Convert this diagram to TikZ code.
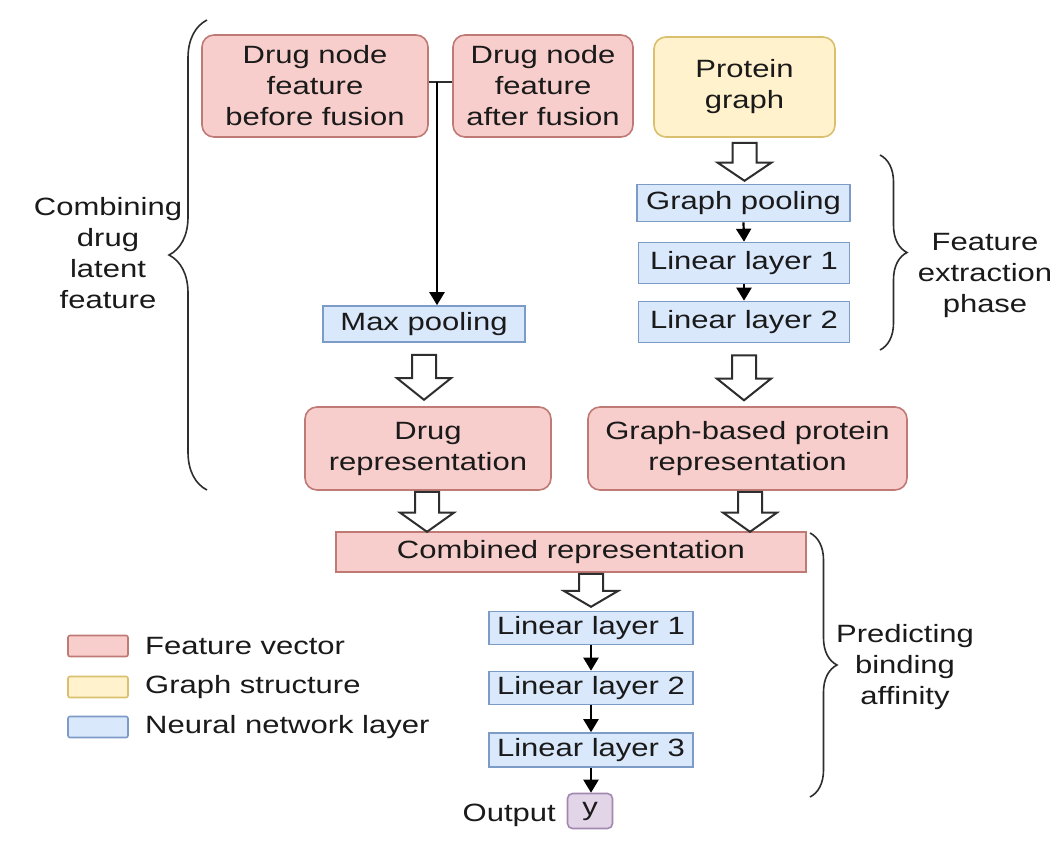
\documentclass[tikz,border=0pt]{standalone}
\usepackage{fontspec}
\setmainfont{Liberation Sans}[FakeStretch=1.24]
\usetikzlibrary{arrows.meta,calc,decorations.pathreplacing}
\definecolor{fvfill}{HTML}{F8CECC}
\definecolor{fvdraw}{HTML}{C07A76}
\definecolor{gsfill}{HTML}{FFF2CC}
\definecolor{gsdraw}{HTML}{D9BF6E}
\definecolor{nnfill}{HTML}{DAE8FC}
\definecolor{nndraw}{HTML}{7D9BC7}
\definecolor{oufill}{HTML}{E1D5E7}
\definecolor{oudraw}{HTML}{A488B2}
\definecolor{textc}{HTML}{1A1A1A}
\definecolor{arrc}{HTML}{2E2E2E}
\begin{document}
\begin{tikzpicture}[x=1pt,y=-1pt,
  every node/.style={font=\fontsize{25}{31}\selectfont, text=textc, inner sep=0pt},
  feat/.style={draw=fvdraw, fill=fvfill, line width=1.6pt, rounded corners=12pt, align=center},
  featsq/.style={draw=fvdraw, fill=fvfill, line width=1.6pt, align=center},
  graphs/.style={draw=gsdraw, fill=gsfill, line width=1.6pt, rounded corners=12pt, align=center},
  nnl/.style={draw=nndraw, fill=nnfill, line width=1.6pt, align=center},
  outb/.style={draw=oudraw, fill=oufill, line width=1.6pt, rounded corners=5pt},
  smallarr/.style={draw=black, line width=2.2pt, -{Triangle[length=13pt,width=15pt]}},
  thinline/.style={draw=arrc, line width=2pt},
  bracestyle/.style={draw=arrc, line width=1.6pt, decorate},
  openarr/.pic={\draw[line width=2pt,draw=arrc,fill=white,line join=miter]
      (-12,0) -- (-12,#1*0.52) -- (-27,#1*0.52) -- (0,#1) -- (27,#1*0.52) -- (12,#1*0.52) -- (12,0) -- cycle;}
]
\useasboundingbox[fill=white] (0,0) rectangle (1054,859);

% top row
\node[feat, minimum width=226pt, minimum height=102pt] (before) at (315,86) {Drug node\\feature\\before fusion};
\node[feat, minimum width=180pt, minimum height=102pt] (after) at (543,86) {Drug node\\feature\\after fusion};
\node[graphs, minimum width=181pt, minimum height=100pt] (protein) at (744.5,87) {Protein\\graph};

% protein branch
\node[nnl, minimum width=213pt, minimum height=37pt] (gpool) at (743.5,203) {Graph pooling};
\node[nnl, minimum width=211pt, minimum height=41pt] (pl1) at (744,263) {Linear layer 1};
\node[nnl, minimum width=211pt, minimum height=41pt] (pl2) at (744,322) {Linear layer 2};

% drug branch
\node[nnl, minimum width=202pt, minimum height=36pt] (maxpool) at (424,324) {Max pooling};

\node[feat, minimum width=246pt, minimum height=83pt] (drugrep) at (428,448.5) {Drug\\representation};
\node[feat, minimum width=319pt, minimum height=83pt] (protrep) at (747.5,448.5) {Graph-based protein\\representation};

\node[featsq, minimum width=470pt, minimum height=40pt] (comb) at (571,552) {Combined representation};

\node[nnl, minimum width=204pt, minimum height=33pt] (l1) at (591,628) {Linear layer 1};
\node[nnl, minimum width=204pt, minimum height=33pt] (l2) at (591,688) {Linear layer 2};
\node[nnl, minimum width=204pt, minimum height=34pt] (l3) at (591,750) {Linear layer 3};
\node[outb, minimum width=45pt, minimum height=35pt] (y) at (590,811) {y};
\node[anchor=east] (outlbl) at (556,815) {Output};

% junction between drug features
\coordinate (junc) at (437,82);
\draw[thinline] (before.east |- junc) -- (after.west |- junc);
\draw[smallarr] (junc) -- (junc |- maxpool.north);

% small arrows
\draw[smallarr] (gpool.south) -- (pl1.north);
\draw[smallarr] (pl1.south) -- (pl2.north);
\draw[smallarr] (l1.south) -- (l2.north);
\draw[smallarr] (l2.south) -- (l3.north);
\draw[smallarr] (l3.south) -- (y.north -| l3.south);

% open block arrows
\pic at ($(protein.south)+(0,5)$) {openarr=38};
\pic at ($(maxpool.south)+(0,12)$) {openarr=45};
\pic at ($(pl2.south)+(0,12)$) {openarr=45};
\pic at ($(drugrep.south)+(-1,1)$) {openarr=40};
\pic at ($(protrep.south)+(2.5,1)$) {openarr=40};
\pic at ($(comb.south -| l1.north)+(0,1)$) {openarr=33};

% braces
\coordinate (lbt) at (207,20);
\coordinate (lbb) at (207,490);
\draw[bracestyle, decoration={brace, amplitude=38pt}] (lbb) -- (lbt);
\node[align=center] (lbl1) at (108,253) {Combining\\drug\\latent\\feature};

\coordinate (fbt) at (880,155);
\coordinate (fbb) at (880,350);
\draw[bracestyle, decoration={brace, amplitude=27pt}] (fbt) -- (fbb);
\node[align=center] (lbl2) at (985,275) {Feature\\extraction\\phase};

\coordinate (pbt) at (810,533);
\coordinate (pbb) at (810,797);
\draw[bracestyle, decoration={brace, amplitude=27pt}] (pbt) -- (pbb);
\node[align=center] (lbl3) at (905,667) {Predicting\\binding\\affinity};

% legend
\node[draw=fvdraw, fill=fvfill, line width=1.6pt, rounded corners=2pt, minimum width=60pt, minimum height=21pt] (lg1) at (98,646) {};
\node[draw=gsdraw, fill=gsfill, line width=1.6pt, rounded corners=2pt, minimum width=60pt, minimum height=21pt] (lg2) at (98,687) {};
\node[draw=nndraw, fill=nnfill, line width=1.6pt, rounded corners=2pt, minimum width=60pt, minimum height=21pt] (lg3) at (98,727) {};
\node[anchor=west] (lt1) at (145,646) {Feature vector};
\node[anchor=west] (lt2) at (145,687) {Graph structure};
\node[anchor=west] (lt3) at (145,727) {Neural network layer};
\end{tikzpicture}
\end{document}
